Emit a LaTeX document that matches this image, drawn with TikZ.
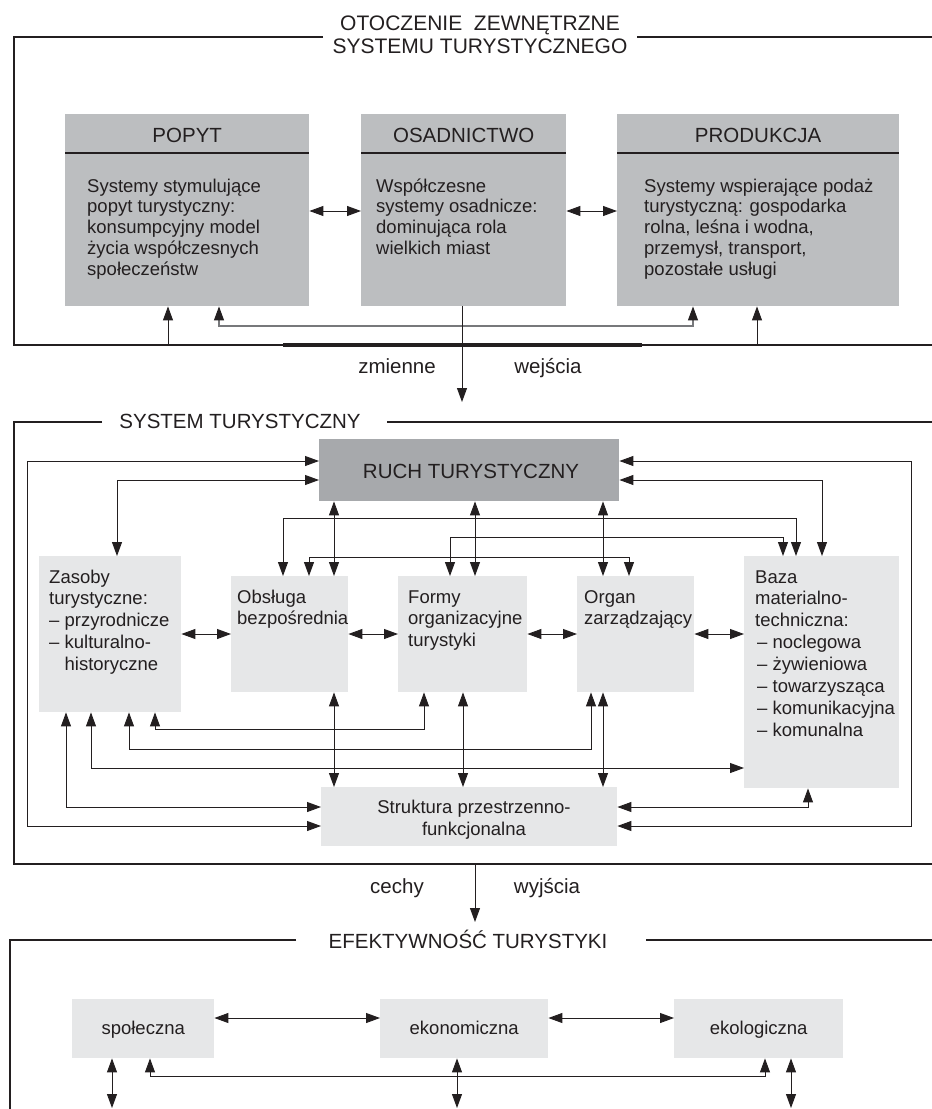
\documentclass[tikz,border=0pt]{standalone}
\usepackage{fontspec}
\setmainfont{Liberation Sans}
\usetikzlibrary{arrows.meta}
\definecolor{ink}{HTML}{231F20}
\definecolor{topgray}{HTML}{BCBEC0}
\definecolor{ruchgray}{HTML}{A7A9AC}
\definecolor{lightbox}{HTML}{E6E7E8}
\definecolor{midgray}{HTML}{77787B}
\newcommand\fbody{\fontsize{18.5}{21.9}\selectfont}
\newcommand\ftopbody{\fontsize{18.5}{20.8}\selectfont}
\newcommand\fhead{\fontsize{20.5}{23}\selectfont}
\newcommand\ftitle{\fontsize{21}{23}\selectfont}
\tikzset{
  tipA/.tip={Triangle[length=14pt,width=10pt,color=ink]},
  dbl/.style={draw=ink,line width=0.9pt,tipA-tipA},
  sgl/.style={draw=ink,line width=0.9pt,-tipA},
  grayline/.style={draw=midgray,line width=1.1pt,tipA-tipA},
  frameline/.style={draw=ink,line width=2.2pt},
  boxtop/.style={fill=topgray,draw=none,anchor=north west,inner sep=0pt},
  boxruch/.style={fill=ruchgray,draw=none,anchor=north west,inner sep=0pt},
  boxlight/.style={fill=lightbox,draw=none,anchor=north west,inner sep=0pt},
  txt/.style={text=ink,inner sep=0pt,align=left,anchor=base west},
  ctxt/.style={text=ink,inner sep=0pt,align=center,anchor=base},
}
\begin{document}
\begin{tikzpicture}[x=1pt,y=-1pt]
\useasboundingbox (0,0) rectangle (932,1109);
\fill[white] (0,0) rectangle (932,1109);

% ===== TOP: OTOCZENIE =====
\draw[frameline] (323,37) -- (14,37) -- (14,345) -- (932,345);
\draw[frameline] (637,37) -- (932,37);
\draw[ink,line width=4.5pt] (283,345) -- (642,345);
\node[ctxt,font=\ftitle] (tTop1) at (480,30) {OTOCZENIE\ \ ZEWNĘTRZNE};
\node[ctxt,font=\ftitle] (tTop2) at (480,53) {SYSTEMU TURYSTYCZNEGO};

\node[boxtop,minimum width=244pt,minimum height=192pt] (popyt) at (65,114) {};
\node[boxtop,minimum width=205pt,minimum height=192pt] (osad) at (361,114) {};
\node[boxtop,minimum width=282pt,minimum height=192pt] (prod) at (617,114) {};
\foreach \b in {popyt,osad,prod}{
  \draw[ink,line width=1.3pt] (\b.west |- 0,153) -- (\b.east |- 0,153);
}
\node[ctxt,font=\fhead] (popytH) at (popyt.center |- 0,142) {POPYT};
\node[ctxt,font=\fhead] (osadH) at (osad.center |- 0,142) {OSADNICTWO};
\node[ctxt,font=\fhead] (prodH) at (prod.center |- 0,142) {PRODUKCJA};
% base anchor = baseline of the last line
\node[txt,font=\ftopbody] (popytB) at (87,275.2) {Systemy stymulujące\\popyt turystyczny:\\konsumpcyjny model\\życia współczesnych\\społeczeństw};
\node[txt,font=\ftopbody] (osadB) at (376,254.4) {Współczesne\\systemy osadnicze:\\dominująca rola\\wielkich miast};
\node[txt,font=\ftopbody] (prodB) at (644,275.2) {Systemy wspierające podaż\\turystyczną: gospodarka\\rolna, leśna i wodna,\\przemysł, transport,\\pozostałe usługi};

\draw[dbl] (popyt.east |- 0,211) -- (osad.west |- 0,211);
\draw[dbl] (osad.east |- 0,211) -- (prod.west |- 0,211);
\coordinate (fA) at (168,345);
\coordinate (fB) at (757,345);
\draw[sgl] (fA) -- (popyt.south -| fA);
\draw[sgl] (fB) -- (prod.south -| fB);
\draw[grayline] (popyt.south -| 219,0) -- (219,326) -- (693,326) -- (prod.south -| 693,0);
\coordinate (inTip) at (462,402);
\draw[sgl] (osad.south -| inTip) -- (inTip);
\node[ctxt,font=\fhead] (lZm) at (397,373) {zmienne};
\node[ctxt,font=\fhead] (lWe) at (548,373) {wejścia};

% ===== MIDDLE: SYSTEM TURYSTYCZNY =====
\draw[frameline] (102,422) -- (14,422) -- (14,864) -- (932,864);
\draw[frameline] (387,422) -- (932,422);
\node[ctxt,font=\fhead] (tMid) at (240,428) {SYSTEM TURYSTYCZNY};

\node[boxruch,minimum width=300pt,minimum height=62pt] (ruch) at (319,439) {};
\node[ctxt,font=\fhead] (ruchT) at (471,478) {RUCH TURYSTYCZNY};
\node[boxlight,minimum width=142pt,minimum height=156pt] (zasoby) at (39,556) {};
\node[boxlight,minimum width=117pt,minimum height=116pt] (obsl) at (231,576) {};
\node[boxlight,minimum width=129pt,minimum height=116pt] (formy) at (398,576) {};
\node[boxlight,minimum width=117pt,minimum height=116pt] (organ) at (577,576) {};
\node[boxlight,minimum width=155pt,minimum height=232pt] (baza) at (744,556) {};
\node[boxlight,minimum width=296pt,minimum height=59pt] (strukt) at (321,787) {};

\node[txt,font=\fbody] (zasobyT) at (49,670.6) {Zasoby\\turystyczne:\\– przyrodnicze\\– kulturalno-\\\phantom{– }historyczne};
\node[txt,font=\fbody] (obslT) at (237,624.9) {Obsługa\\bezpośrednia};
\node[txt,font=\fbody] (formyT) at (408,646.8) {Formy\\organizacyjne\\turystyki};
\node[txt,font=\fbody] (organT) at (584,624.9) {Organ\\zarządzający};
\node[txt,font=\fbody] (bazaT) at (755,736.3) {Baza\\materialno-\\techniczna:\\\hspace*{2pt}– noclegowa\\\hspace*{2pt}– żywieniowa\\\hspace*{2pt}– towarzysząca\\\hspace*{2pt}– komunikacyjna\\\hspace*{2pt}– komunalna};
\node[ctxt,font=\fbody] (struktT) at (474,835.5) {Struktura przestrzenno-\\funkcjonalna};

% connectors around RUCH
\draw[dbl] (ruch.west |- 0,461) -- (27,461) -- (27,826) -- (strukt.west |- 0,826);
\draw[dbl] (ruch.west |- 0,480) -- (117,480) -- (zasoby.north -| 117,0);
\draw[dbl] (ruch.east |- 0,461) -- (911,461) -- (911,826) -- (strukt.east |- 0,826);
\draw[dbl] (ruch.east |- 0,480) -- (822,480) -- (baza.north -| 822,0);
\draw[dbl] (ruch.south -| 334,0) -- (obsl.north -| 334,0);
\draw[dbl] (ruch.south -| 475,0) -- (formy.north -| 475,0);
\draw[dbl] (ruch.south -| 603,0) -- (organ.north -| 603,0);
% upper cross links
\draw[dbl] (obsl.north -| 283,0) -- (283,518) -- (796,518) -- (baza.north -| 796,0);
\draw[dbl] (formy.north -| 450,0) -- (450,537) -- (783,537) -- (baza.north -| 783,0);
\draw[dbl] (obsl.north -| 309,0) -- (309,557) -- (629,557) -- (organ.north -| 629,0);
% row links
\draw[dbl] (zasoby.east |- 0,634) -- (obsl.west |- 0,634);
\draw[dbl] (obsl.east |- 0,634) -- (formy.west |- 0,634);
\draw[dbl] (formy.east |- 0,634) -- (organ.west |- 0,634);
\draw[dbl] (organ.east |- 0,634) -- (baza.west |- 0,634);
% to Struktura
\draw[dbl] (obsl.south -| 334,0) -- (strukt.north -| 334,0);
\draw[dbl] (formy.south -| 463,0) -- (strukt.north -| 463,0);
\draw[dbl] (organ.south -| 603,0) -- (strukt.north -| 603,0);
% lower cross links
\draw[dbl] (zasoby.south -| 155,0) -- (155,729) -- (424,729) -- (formy.south -| 424,0);
\draw[dbl] (zasoby.south -| 129,0) -- (129,749) -- (591,749) -- (organ.south -| 591,0);
\draw[dbl] (zasoby.south -| 91,0) -- (91,768) -- (baza.west |- 0,768);
\draw[dbl] (zasoby.south -| 66,0) -- (66,807) -- (strukt.west |- 0,807);
\draw[dbl] (baza.south -| 808,0) -- (808,807) -- (strukt.east |- 0,807);

% output
\coordinate (outTop) at (475,864);
\coordinate (outTip) at (475,922);
\draw[sgl] (outTop) -- (outTip);
\node[ctxt,font=\fhead] (lCe) at (397,893) {cechy};
\node[ctxt,font=\fhead] (lWy) at (547,893) {wyjścia};

% ===== BOTTOM: EFEKTYWNOSC =====
\draw[frameline] (296,940) -- (10,940) -- (10,1112);
\draw[frameline] (646,940) -- (932,940);
\node[ctxt,font=\fhead] (tBot) at (468,948) {EFEKTYWNOŚĆ TURYSTYKI};

\node[boxlight,minimum width=142pt,minimum height=59pt] (spol) at (72,999) {};
\node[boxlight,minimum width=168pt,minimum height=59pt] (ekon) at (380,999) {};
\node[boxlight,minimum width=169pt,minimum height=59pt] (ekol) at (674,999) {};
\node[ctxt,font=\fbody] (spolT) at (spol.center |- 0,1034) {społeczna};
\node[ctxt,font=\fbody] (ekonT) at (ekon.center |- 0,1034) {ekonomiczna};
\node[ctxt,font=\fbody] (ekolT) at (ekol.center |- 0,1034) {ekologiczna};

\draw[dbl] (spol.east |- 0,1018) -- (ekon.west |- 0,1018);
\draw[dbl] (ekon.east |- 0,1018) -- (ekol.west |- 0,1018);
\coordinate (bS) at (112,1108);
\coordinate (bE) at (457,1108);
\coordinate (bK) at (791,1108);
\draw[dbl] (spol.south -| bS) -- (bS);
\draw[dbl] (ekon.south -| bE) -- (bE);
\draw[dbl] (ekol.south -| bK) -- (bK);
\draw[dbl] (spol.south -| 150,0) -- (150,1076) -- (765,1076) -- (ekol.south -| 765,0);
\end{tikzpicture}
\end{document}
